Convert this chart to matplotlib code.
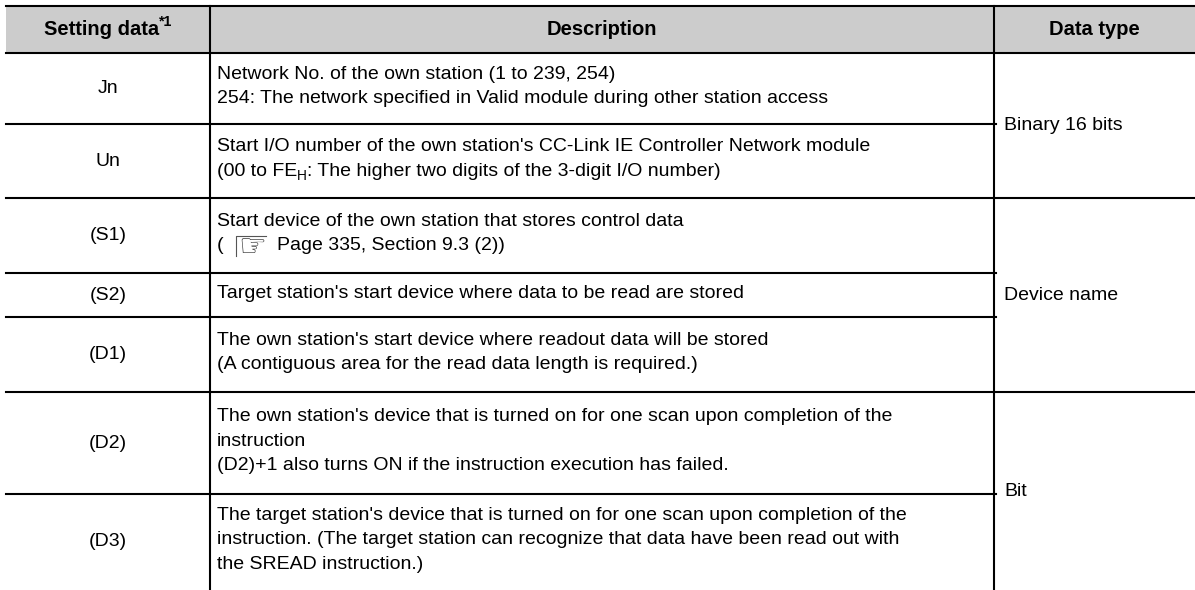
import matplotlib
matplotlib.use("Agg")
import matplotlib.pyplot as plt

# --- table content ---
headers = ["Setting data", "Description", "Data type"]
header_note = "*1"

setting_data = ["Jn", "Un", "(S1)", "(S2)", "(D1)", "(D2)", "(D3)"]
descriptions = [
    ["Network No. of the own station (1 to 239, 254)",
     "254: The network specified in Valid module during other station access"],
    ["Start I/O number of the own station's CC-Link IE Controller Network module",
     None],  # second line has a subscript, drawn below
    ["Start device of the own station that stores control data",
     None],  # second line has the page icon
    ["Target station's start device where data to be read are stored"],
    ["The own station's start device where readout data will be stored",
     "(A contiguous area for the read data length is required.)"],
    ["The own station's device that is turned on for one scan upon completion of the",
     "instruction",
     "(D2)+1 also turns ON if the instruction execution has failed."],
    ["The target station's device that is turned on for one scan upon completion of the",
     "instruction. (The target station can recognize that data have been read out with",
     "the SREAD instruction.)"],
]
un_line2 = [("(00 to FE", 0), ("H", 1), (": The higher two digits of the 3-digit I/O number)", 0)]
s1_line2 = ["(", "\u261E", "Page 335, Section 9.3 (2))"]

data_types = ["Binary 16 bits", "Device name", "Bit"]
type_spans = [(0, 1), (2, 4), (5, 6)]   # row index ranges

# --- layout (pixels) ---
W, H = 1195, 590
x_left, x_c1, x_c2, x_right = 6, 210, 994, 1195
y_top, y_head = 6, 53
row_edges = [53, 124, 198, 273, 317, 392, 494, 590]
line_gap = 24.5
fs = 14
fs_head = 14.5
fam = ["Liberation Sans", "DejaVu Sans"]

fig = plt.figure(figsize=(W / 100, H / 100), dpi=100)
ax = fig.add_axes([0, 0, 1, 1])
ax.set_xlim(0, W)
ax.set_ylim(H, 0)
ax.axis("off")

lw = 1.5
ax.fill_between([x_left, x_right], y_top, y_head, color="#cccccc", lw=0)
ax.plot([x_left, x_right], [y_top, y_top], color="black", lw=lw)
ax.plot([x_left, x_right], [y_head, y_head], color="black", lw=lw)
ax.plot([x_c1, x_c1], [y_top, H], color="black", lw=lw)
ax.plot([x_c2, x_c2], [y_top, H], color="black", lw=lw)

type_ends = [row_edges[b + 1] for a, b in type_spans]
for y in row_edges[1:-1]:
    xe = x_right if y in type_ends else x_c2 + 2
    ax.plot([x_left, xe], [y, y], color="black", lw=lw)

fig.canvas.draw()
renderer = fig.canvas.get_renderer()


def width_of(t):
    return t.get_window_extent(renderer).width


# header
t1 = ax.text(0, y_head / 2 + 3, headers[0], fontsize=fs_head, fontweight="bold",
             family=fam, va="center", ha="left")
t2 = ax.text(0, y_head / 2 - 4, header_note, fontsize=fs_head * 0.7, fontweight="bold",
             family=fam, va="center", ha="left")
w1, w2 = width_of(t1), width_of(t2)
cx = (x_left + x_c1) / 2
t1.set_x(cx - (w1 + w2) / 2)
t2.set_x(cx - (w1 + w2) / 2 + w1)
ax.text((x_c1 + x_c2) / 2, y_head / 2 + 3, headers[1], fontsize=fs_head,
        fontweight="bold", family=fam, va="center", ha="center")
ax.text((x_c2 + x_right) / 2, y_head / 2 + 3, headers[2], fontsize=fs_head,
        fontweight="bold", family=fam, va="center", ha="center")

# rows
tx = x_c1 + 7
for i, name in enumerate(setting_data):
    y0, y1 = row_edges[i], row_edges[i + 1]
    yc = (y0 + y1) / 2
    ax.text((x_left + x_c1) / 2, yc, name, fontsize=fs, family=fam,
            va="center", ha="center")
    lines = descriptions[i]
    n = len(lines)
    for k, line in enumerate(lines):
        y = yc - 2 + (k - (n - 1) / 2) * line_gap
        if line is not None:
            ax.text(tx, y, line, fontsize=fs, family=fam, va="center", ha="left")
            continue
        if name == "Un":
            x = tx
            for s, sub in un_line2:
                t = ax.text(x, y + (5 if sub else 0), s, fontsize=fs * (0.7 if sub else 1),
                            family=fam, va="center", ha="left")
                x += width_of(t)
        elif name == "(S1)":
            t = ax.text(tx, y, s1_line2[0], fontsize=fs, family=fam, va="center", ha="left")
            x = tx + width_of(t) + 12
            # page-reference icon: bracket plus pointing hand
            ax.plot([x, x, x + 30], [y + 10, y - 10, y - 10], color="#555555", lw=0.8)
            t = ax.text(x + 3, y + 2, s1_line2[1], fontsize=fs * 1.6, family=["DejaVu Sans"],
                        va="center", ha="left", color="#333333")
            x += width_of(t) + 14
            ax.text(x, y, s1_line2[2], fontsize=fs, family=fam, va="center", ha="left")

for label, (a, b) in zip(data_types, type_spans):
    yc = (row_edges[a] + row_edges[b + 1]) / 2
    ax.text(x_c2 + 10, yc, label, fontsize=fs, family=fam, va="center", ha="left")

fig.savefig("out.png", dpi=100)
